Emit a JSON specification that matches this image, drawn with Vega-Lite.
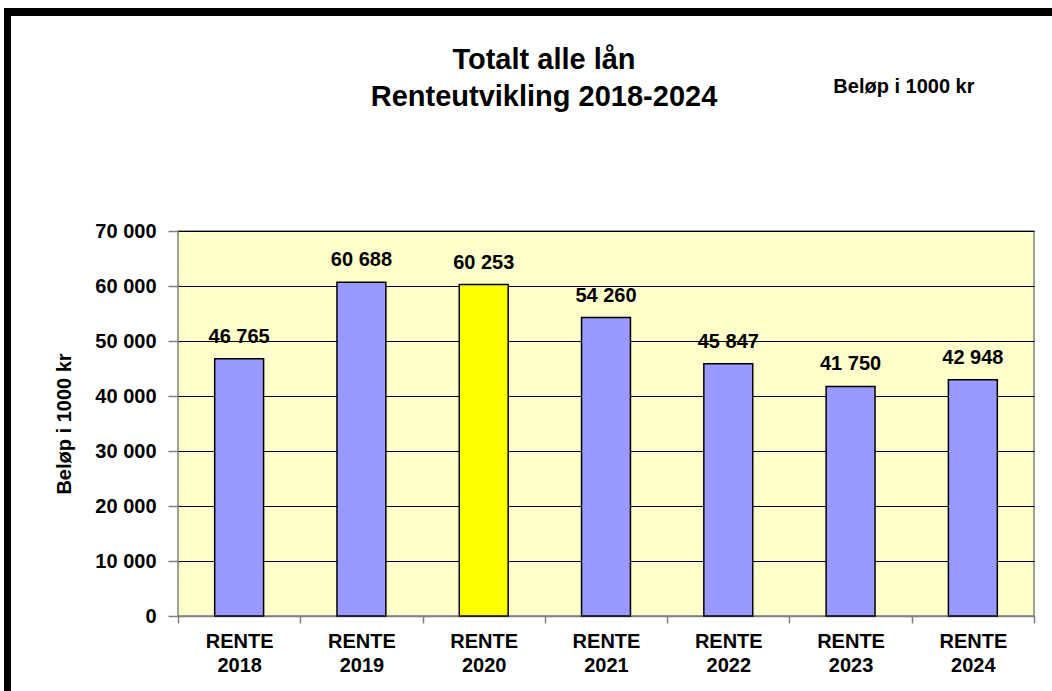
{
  "$schema": "https://vega.github.io/schema/vega-lite/v6.json",
  "padding": {"left": 4, "top": 8, "right": 0, "bottom": 0},
  "background": "white",
  "columns": 2,
  "align": "none",
  "spacing": {"row": -8, "column": 0},
  "config": {
    "locale": {"number": {"decimal": ",", "thousands": " ", "grouping": [3], "currency": ["", " kr"]}},
    "font": "Liberation Sans",
    "view": {"fill": "#FFFFCC", "stroke": "#808080", "strokeWidth": 1.5}
  },
  "concat": [
    {
      "width": 7, "height": 8,
      "data": {"values": []},
      "mark": "rect",
      "view": {"fill": "black", "stroke": null}
    },
    {
      "width": 1045, "height": 8,
      "data": {"values": []},
      "mark": "rect",
      "view": {"fill": "black", "stroke": null}
    },
    {
      "width": 7, "height": 690,
      "data": {"values": []},
      "mark": "rect",
      "view": {"fill": "black", "stroke": null}
    },
    {
      "width": 856,
      "height": 385,
      "title": {
        "text": ["", "Totalt alle lån", "Renteutvikling 2018-2024"],
        "fontSize": 29,
        "fontWeight": "bold",
        "font": "Liberation Sans",
        "lineHeight": 37,
        "anchor": "middle",
        "frame": "group",
        "dx": -62,
        "offset": -36,
        "color": "black"
      },
      "data": {
        "values": [
          {"kategori": "RENTE 2018", "aar": "2018", "belop": 46765},
          {"kategori": "RENTE 2019", "aar": "2019", "belop": 60688},
          {"kategori": "RENTE 2020", "aar": "2020", "belop": 60253},
          {"kategori": "RENTE 2021", "aar": "2021", "belop": 54260},
          {"kategori": "RENTE 2022", "aar": "2022", "belop": 45847},
          {"kategori": "RENTE 2023", "aar": "2023", "belop": 41750},
          {"kategori": "RENTE 2024", "aar": "2024", "belop": 42948}
        ]
      },
      "layer": [
        {
          "mark": {"type": "bar", "width": {"band": 0.4}, "stroke": "black", "strokeWidth": 1.5},
          "encoding": {
            "x": {
              "field": "kategori", "type": "nominal", "sort": null,
              "scale": {"paddingInner": 0, "paddingOuter": 0},
              "axis": {
                "orient": "bottom", "title": null, "labelAngle": 0,
                "labelExpr": "split(datum.label, ' ')",
                "labelFontSize": 20, "labelFontWeight": "bold", "labelColor": "black",
                "labelLineHeight": 24, "labelPadding": 8,
                "tickBand": "extent", "tickSize": 7, "tickColor": "#808080", "tickWidth": 1.5,
                "domainColor": "#808080", "domainWidth": 1.5, "grid": false
              }
            },
            "y": {
              "field": "belop", "type": "quantitative",
              "scale": {"domain": [0, 70000]},
              "axis": {
                "values": [0, 10000, 20000, 30000, 40000, 50000, 60000, 70000],
                "format": ",d",
                "grid": true, "gridColor": "#000000", "gridWidth": 1,
                "domain": false,
                "tickSize": 10, "tickColor": "#808080", "tickWidth": 1.5,
                "labelFontSize": 20, "labelFontWeight": "bold", "labelColor": "black", "labelPadding": 12,
                "title": ["", "Beløp i 1000 kr"], "titleLineHeight": 43,
                "titleFontSize": 20, "titleFontWeight": "bold", "titleColor": "black", "titlePadding": 20
              }
            },
            "fill": {"condition": {"test": "datum.aar === '2020'", "value": "#FFFF00"}, "value": "#9999FF"}
          }
        },
        {
          "mark": {"type": "text", "dy": -16, "baseline": "alphabetic", "fontSize": 20, "fontWeight": "bold", "color": "black"},
          "encoding": {
            "x": {
              "field": "kategori", "type": "nominal", "sort": null,
              "axis": {
                "orient": "top", "labels": false, "ticks": false, "domain": false, "grid": false,
                "title": "Beløp i 1000 kr", "titleFontSize": 20, "titleFontWeight": "bold", "titleColor": "black",
                "titleX": 796, "titleY": -139, "titleAlign": "right", "titleBaseline": "alphabetic", "titleAngle": 0
              }
            },
            "y": {"field": "belop", "type": "quantitative"},
            "text": {"field": "belop", "type": "quantitative", "format": ",d"}
          }
        }
      ],
      "resolve": {"axis": {"x": "independent"}}
    }
  ]
}
